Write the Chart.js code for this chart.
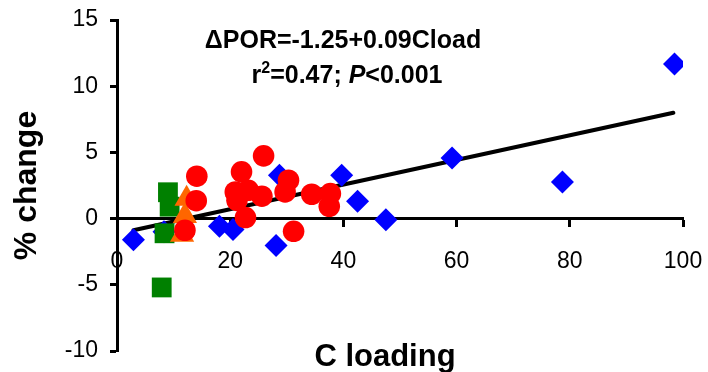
<!DOCTYPE html>
<html>
<head>
<meta charset="utf-8">
<script src="https://cdn.jsdelivr.net/npm/chart.js@4/dist/chart.umd.min.js"></script>
<style>
  html, body { margin: 0; padding: 0; background: #fff; }
  #wrap { width: 708px; height: 372px; }
</style>
</head>
<body>
<div id="wrap"><canvas id="chart"></canvas></div>
<script>
// values
const blueLoad   = [2.9, 8.3, 18.1, 20.5, 28.1, 28.7, 39.7, 42.5, 47.5, 59.2, 78.7, 98.5];
const blueChange = [-1.6, -1.0, -0.58, -0.83, -2.04, 3.28, 3.28, 1.31, -0.08, 4.58, 2.77, 11.67];

const redLoad   = [12.0, 14.1, 14.0, 20.9, 21.2, 22.0, 23.2, 22.7, 25.6, 25.9, 29.7, 30.3, 31.2, 34.4, 37.7, 37.5];
const redChange = [-0.88, 3.2, 1.35, 2.01, 1.38, 3.53, 2.14, 0.08, 1.69, 4.74, 2.01, 2.9, -0.96, 1.84, 1.89, 0.93];

const greenLoad   = [9.0, 9.3, 8.4, 7.9];
const greenChange = [1.99, 0.9, -1.11, -5.2];

const orangeLoad   = [12.3, 12.0, 11.5];
const orangeChange = [1.5, 0.2, -1.22];

const fitLoad   = [2.9, 98.3];
const fitChange = [-0.88, 7.99];

const xTicks = [0, 20, 40, 60, 80, 100];
const yTicks = [-10, -5, 0, 5, 10, 15];

const FONT = '"Liberation Sans", Arial, sans-serif';

function pts(xs, ys) {
    return xs.map((x, i) => ({ x: x, y: ys[i] }));
}

const textPlugin = {
    id: 'texts',
    afterDraw(chart) {
        const c = chart.ctx;
        c.save();
        c.fillStyle = '#000';
        c.textBaseline = 'alphabetic';

        // x axis title
        c.font = 'bold 31px ' + FONT;
        c.textAlign = 'center';
        c.fillText('C loading', 385, 366);

        // regression equation
        c.font = 'bold 25px ' + FONT;
        c.fillText('\u0394POR=-1.25+0.09Cload', 343, 48);

        // r2 line, built piece by piece
        const parts = [
            { t: 'r', f: 'bold 25px ' + FONT, dy: 0 },
            { t: '2', f: 'bold 16px ' + FONT, dy: -10 },
            { t: '=0.47; ', f: 'bold 25px ' + FONT, dy: 0 },
            { t: 'P', f: 'italic bold 25px ' + FONT, dy: 0 },
            { t: '<0.001', f: 'bold 25px ' + FONT, dy: 0 }
        ];
        let w = 0;
        parts.forEach(p => { c.font = p.f; p.w = c.measureText(p.t).width; w += p.w; });
        let x = 347 - w / 2;
        c.textAlign = 'left';
        parts.forEach(p => {
            c.font = p.f;
            c.fillText(p.t, x, 83 + p.dy);
            x += p.w;
        });
        c.restore();
    }
};

new Chart(document.getElementById('chart'), {
    type: 'scatter',
    data: {
        datasets: [
            {
                label: 'red',
                data: pts(redLoad, redChange),
                pointStyle: 'circle',
                pointRadius: 10.8,
                backgroundColor: '#FF0000',
                borderColor: '#FF0000',
                borderWidth: 0
            },
            {
                label: 'orange',
                data: pts(orangeLoad, orangeChange),
                pointStyle: 'triangle',
                pointRadius: 14,
                backgroundColor: '#FF6600',
                borderColor: '#FF6600',
                borderWidth: 0
            },
            {
                label: 'green',
                data: pts(greenLoad, greenChange),
                pointStyle: 'rect',
                pointRadius: 14,
                backgroundColor: '#008000',
                borderColor: '#008000',
                borderWidth: 0
            },
            {
                label: 'blue',
                data: pts(blueLoad, blueChange),
                pointStyle: 'rectRot',
                pointRadius: 11.5,
                backgroundColor: '#0000FF',
                borderColor: '#0000FF',
                borderWidth: 0
            },
            {
                label: 'fit',
                data: pts(fitLoad, fitChange),
                showLine: true,
                pointRadius: 0,
                borderColor: '#000',
                borderWidth: 4,
                borderCapStyle: 'round',
                fill: false
            }
        ]
    },
    options: {
        responsive: true,
        maintainAspectRatio: false,
        animation: false,
        layout: { padding: { left: 0, top: 20, right: 25, bottom: 21 } },
        plugins: {
            legend: { display: false },
            tooltip: { enabled: false }
        },
        scales: {
            x: {
                type: 'linear',
                min: 0,
                max: 100,
                position: { y: 0 },
                afterBuildTicks: s => { s.ticks = xTicks.map(v => ({ value: v })); },
                afterFit: s => { s.paddingLeft = 0; s.paddingRight = 0; },
                ticks: { color: '#000', font: { family: FONT, size: 23 }, padding: 22, maxRotation: 0 },
                grid: { drawOnChartArea: false, drawTicks: true, tickLength: 7, tickWidth: 3, tickColor: '#000' },
                border: { display: true, color: '#000', width: 3 }
            },
            y: {
                min: -10,
                max: 15,
                position: 'left',
                afterBuildTicks: s => { s.ticks = yTicks.map(v => ({ value: v })); },
                afterFit: s => { s.width = 117; s.paddingTop = 0; s.paddingBottom = 0; },
                ticks: { color: '#000', font: { family: FONT, size: 23 }, padding: 12 },
                grid: { drawOnChartArea: false, drawTicks: true, tickLength: 7, tickWidth: 3, tickColor: '#000' },
                border: { display: true, color: '#000', width: 3 },
                title: {
                    display: true,
                    text: '% change',
                    color: '#000',
                    font: { family: FONT, size: 32, weight: 'bold' },
                    padding: { top: 8, bottom: 0 }
                }
            }
        }
    },
    plugins: [textPlugin]
});
</script>
</body>
</html>
